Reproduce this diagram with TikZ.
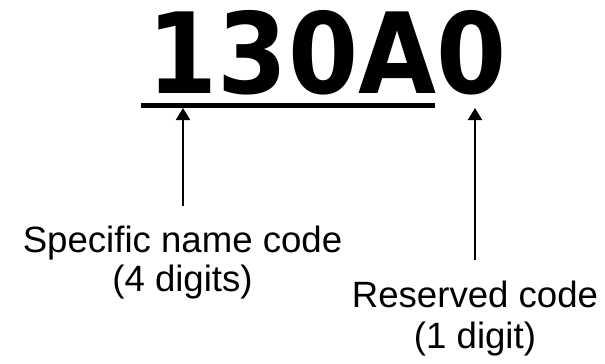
\documentclass[tikz,border=0pt]{standalone}
\usepackage{fontspec}
\setmainfont{Liberation Sans}
\newfontfamily\codefont[FakeStretch=0.9]{DejaVu Sans Bold}
\usetikzlibrary{arrows.meta}
\tikzset{
  lbl/.style={inner sep=0pt, anchor=base, font=\fontsize{36.6bp}{40bp}\selectfont},
  pointer/.style={line width=2bp, -{Triangle[width=14bp,length=12bp]}},
  uline/.style={line width=5.5bp},
}
\begin{document}
\begin{tikzpicture}[x=1bp,y=-1bp]
\useasboundingbox (0,0) rectangle (605,363);
\node[inner sep=0pt, anchor=base, font=\codefont\fontsize{112bp}{112bp}\selectfont] (code) at (327,93) {130A0};
\coordinate (ulA) at (141,105.5);
\coordinate (ulB) at (435,105.5);
\draw[uline] (ulA) -- (ulB);
\node[lbl] (s1) at (182.5,252) {Specific name code};
\node[lbl] (s2) at (182.5,291) {(4 digits)};
\node[lbl] (r1) at (475,307) {Reserved code};
\node[lbl] (r2) at (475,348) {(1 digit)};
\coordinate (t1) at (183,108);
\coordinate (b1) at (183,206);
\coordinate (t2) at (475,108);
\coordinate (b2) at (475,260);
\draw[pointer] (b1) -- (t1);
\draw[pointer] (b2) -- (t2);
\end{tikzpicture}
\end{document}
